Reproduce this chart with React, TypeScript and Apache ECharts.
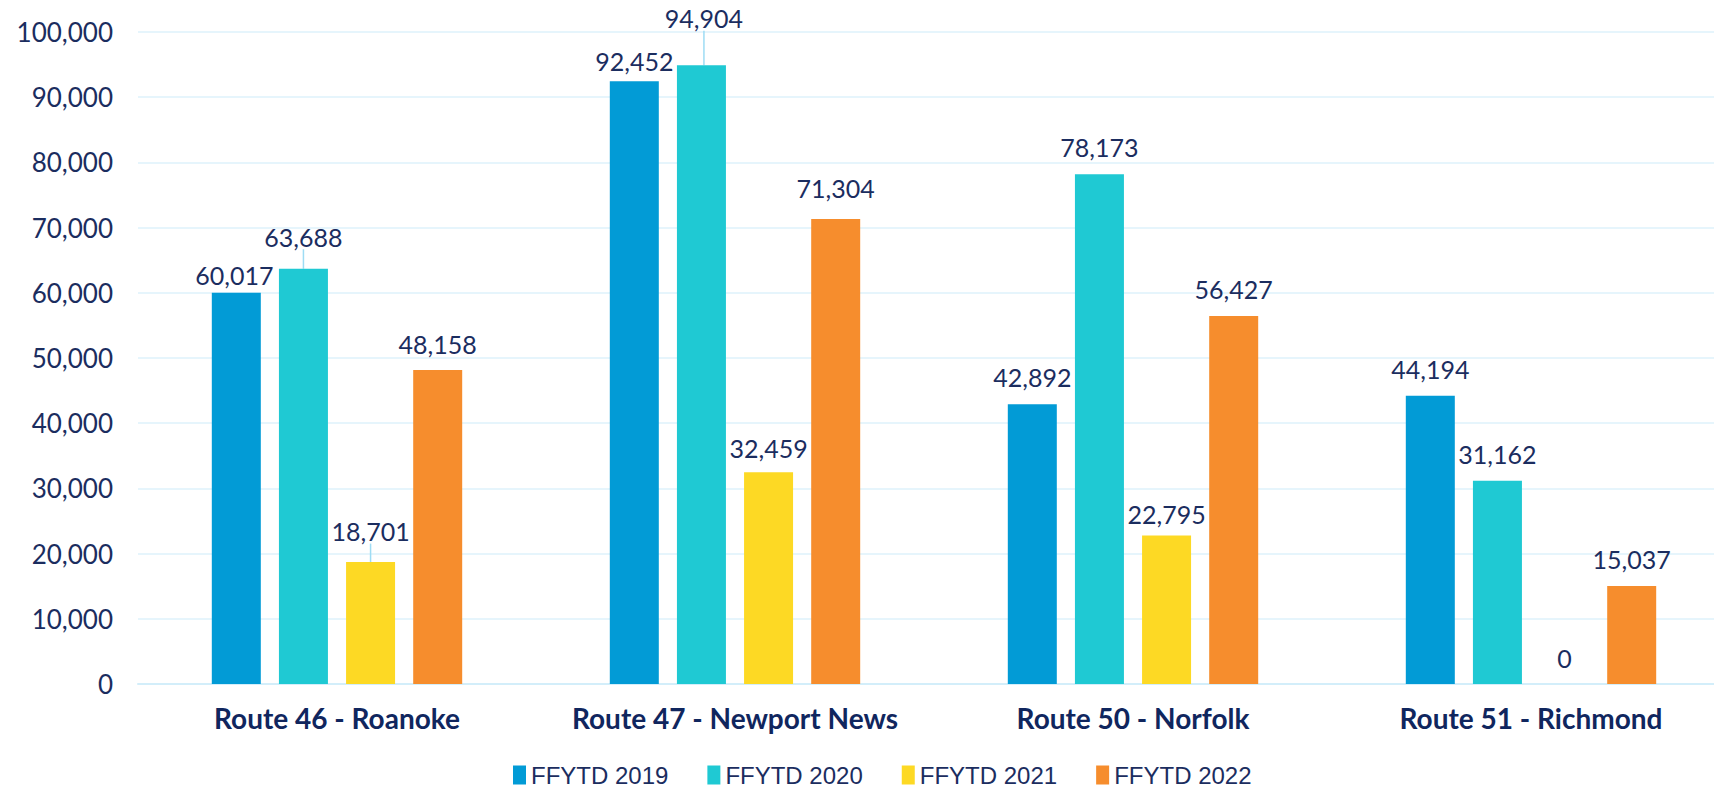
import React, { useEffect, useRef } from "react";
import * as echarts from "echarts";

const categories = [
  "Route 46 - Roanoke",
  "Route 47 - Newport News",
  "Route 50 - Norfolk",
  "Route 51 - Richmond",
];
const seriesNames = ["FFYTD 2019", "FFYTD 2020", "FFYTD 2021", "FFYTD 2022"];
const ffytd2019 = [60017, 92452, 42892, 44194];
const ffytd2020 = [63688, 94904, 78173, 31162];
const ffytd2021 = [18701, 32459, 22795, 0];
const ffytd2022 = [48158, 71304, 56427, 15037];
const yTicks = { min: 0, max: 100000, interval: 10000 };

const seriesValues = [ffytd2019, ffytd2020, ffytd2021, ffytd2022];
const colors = ["#029bd6", "#1fc9d3", "#fdd924", "#f68d2d"];

// label nudges (dx, dy) per series / category, and which labels have leader lines
const labelDx = [
  [-2, 0, 0, 0],
  [0, 2.5, 0, 0],
  [0, 0, 0, 0],
  [0, 0, 0, 0],
];
const labelDy = [
  [9, 7, 0, 0],
  [-5, -20, 0, 0],
  [-4, 3, 6, 1],
  [1, -4, 0, 0],
];
const leader = [
  [false, false, false, false],
  [true, true, false, false],
  [true, false, false, false],
  [false, false, false, false],
];

const NAVY = "#1b2d5f";
const FONT = "Lato, 'Open Sans', sans-serif";

export default function App() {
  const ref = useRef<HTMLDivElement>(null);
  useEffect(() => {
    document.body.style.margin = "0";
    document.body.style.overflow = "hidden";
    if (!ref.current) return;
    const chart = echarts.init(ref.current, undefined, { renderer: "svg" });
    const fmt = (v: number) => v.toLocaleString("en-US");
    chart.setOption({
      animation: false,
      textStyle: { fontFamily: FONT },
      grid: { left: 138, top: 32, right: 0, bottom: 104, containLabel: false },
      legend: {
        data: seriesNames,
        left: 513,
        top: 763,
        padding: 0,
        itemWidth: 13,
        itemHeight: 19,
        itemGap: 39,
        icon: "rect",
        textStyle: {
          fontFamily: "'Liberation Sans Narrow', 'Liberation Sans', sans-serif",
          fontSize: 24,
          lineHeight: 24,
          color: NAVY,
        },
      },
      xAxis: {
        type: "category",
        data: categories,
        axisTick: { show: false },
        axisLine: { show: true, lineStyle: { color: "#d3eefa", width: 2 } },
        axisLabel: {
          margin: 20,
          fontSize: 28,
          lineHeight: 28,
          fontWeight: "bold",
          color: "#10265e",
          fontFamily: FONT,
          interval: 0,
        },
      },
      yAxis: {
        type: "value",
        min: yTicks.min,
        max: yTicks.max,
        interval: yTicks.interval,
        axisLine: { show: false },
        axisTick: { show: false },
        splitLine: { lineStyle: { color: "#def2fb", width: 1.5 } },
        axisLabel: {
          margin: 25,
          fontSize: 26,
          color: NAVY,
          fontFamily: FONT,
          formatter: (v: number) => fmt(v),
        },
      },
      series: seriesValues.map((vals, si) => ({
        name: seriesNames[si],
        type: "bar",
        barWidth: 49,
        barGap: "37%",
        itemStyle: { color: colors[si] },
        label: {
          show: true,
          position: "top",
          distance: 14.5,
          fontSize: 25,
          lineHeight: 25,
          color: NAVY,
          fontFamily: FONT,
          formatter: (p: any) => fmt(p.value),
        },
        labelLayout: (p: any) => ({
          dx: labelDx[si][p.dataIndex],
          dy: labelDy[si][p.dataIndex],
        }),
        data: vals.map((v, ci) => ({
          value: v,
          labelLine: {
            show: leader[si][ci],
            lineStyle: { color: "#9edcf4", width: 1.5 },
          },
        })),
      })),
    });
    return () => chart.dispose();
  }, []);
  return (
    <div style={{ width: 1714, height: 788, overflow: "hidden" }}>
      <div ref={ref} style={{ width: 1730, height: 788 }} />
    </div>
  );
}
